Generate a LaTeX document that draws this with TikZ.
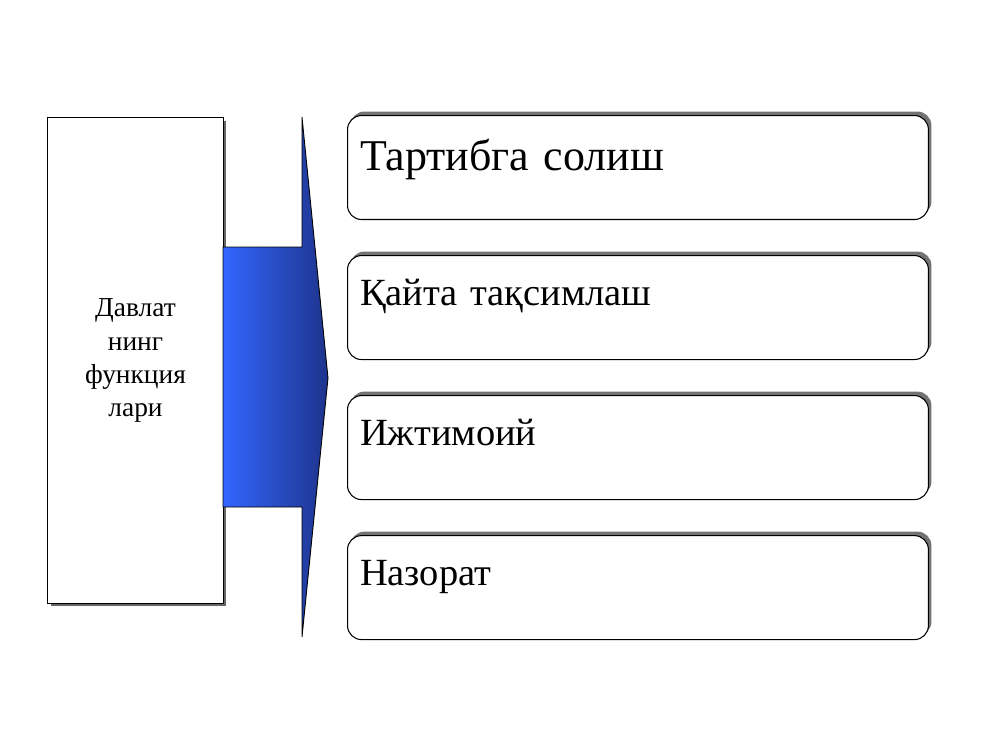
\documentclass[tikz,border=0pt]{standalone}
\usepackage{fontspec}
\setmainfont{Liberation Serif}
\usetikzlibrary{positioning,shadows}
\definecolor{arrowlight}{RGB}{51,102,255}
\definecolor{arrowdark}{RGB}{30,52,140}

\begin{document}
\begin{tikzpicture}[x=0.02cm, y=-0.02cm,
    funcbox/.style={draw, fill=white, line width=0.6pt, minimum width=3.52cm,
      minimum height=9.72cm, align=center, font=\fontsize{15.6}{18.8}\selectfont,
      drop shadow={shadow xshift=0.06cm, shadow yshift=-0.06cm, fill=black!60, opacity=1}},
    itembox/.style={draw, fill=white, line width=0.6pt, rounded corners=0.28cm,
      text width=11.12cm, inner xsep=0.25cm, inner ysep=0pt, text height=1.0cm,
      text depth=1.08cm, align=left, font=\fontsize{21.9}{26}\selectfont,
      drop shadow={shadow xshift=0.06cm, shadow yshift=0.08cm, fill=black!55, opacity=1}}]
  \useasboundingbox (0,0) rectangle (1000,750);
  \node[funcbox, anchor=north west] (funcs) at (47,117) {Давлат\\нинг\\функция\\лари};
  \coordinate (a1) at (223,247);
  \coordinate (a2) at (302,247);
  \coordinate (a3) at (302,117);
  \coordinate (tip) at (328,378);
  \coordinate (a5) at (302,637);
  \coordinate (a6) at (302,507);
  \coordinate (a7) at (223,507);
  \draw[left color=arrowlight, right color=arrowdark, line width=0.5pt]
    (a1) -- (a2) -- (a3) -- (tip) -- (a5) -- (a6) -- (a7) -- cycle;
  \node[itembox, anchor=north west, text height=1.1cm, text depth=0.98cm,
    font=\fontsize{25}{30}\selectfont] (order) at (347,115) {Тартибга солиш};
  \node[itembox, below=0.7cm of order] (redist) {Қайта тақсимлаш};
  \node[itembox, below=0.7cm of redist] (social) {Ижтимоий};
  \node[itembox, below=0.7cm of social] (control) {Назорат};
\end{tikzpicture}
\end{document}
